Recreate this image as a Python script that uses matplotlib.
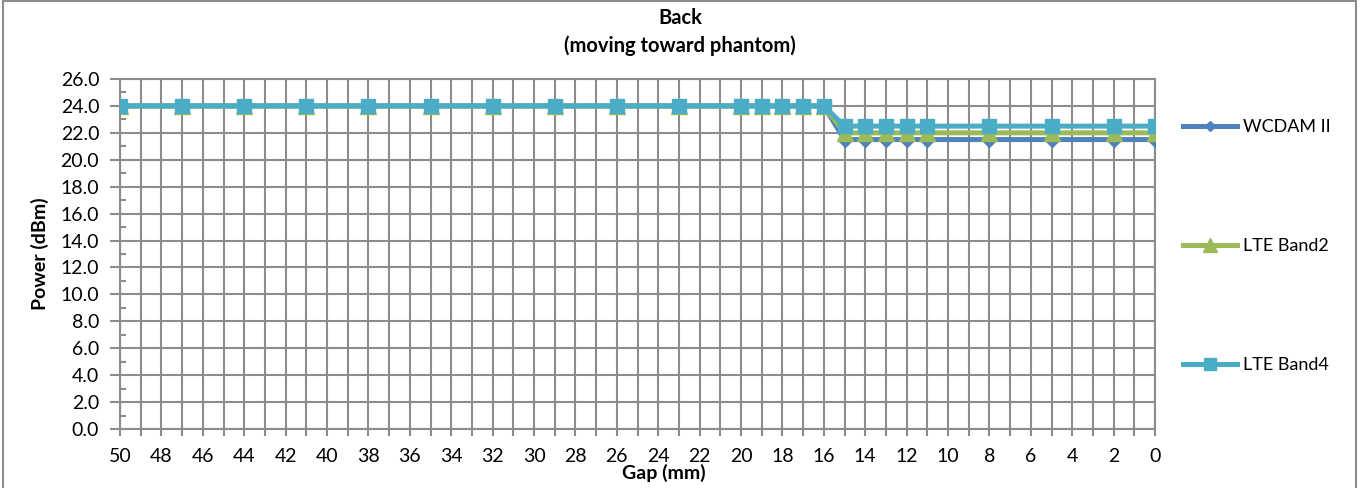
import matplotlib
matplotlib.use('Agg')

import matplotlib.pyplot as plt
from matplotlib.patches import Rectangle
from matplotlib.ticker import MultipleLocator, NullFormatter

plt.rcParams['font.family'] = ['Lato', 'DejaVu Sans']

# Data
gap_mm = [50, 47, 44, 41, 38, 35, 32, 29, 26, 23, 20, 19, 18, 17, 16,
          15, 14, 13, 12, 11, 8, 5, 2, 0]
wcdma_ii = [24.0] * 15 + [21.5] * 9
lte_band2 = [24.0] * 15 + [22.0] * 9
lte_band4 = [24.0] * 15 + [22.5] * 9

series_names = ['WCDAM II', 'LTE Band2', 'LTE Band4']
title_text = 'Back\n(moving toward phantom)'

W, H = 1362, 488
fig = plt.figure(figsize=(W / 100, H / 100), dpi=100)
ax = fig.add_axes([120 / W, 1 - 429 / H, (1155 - 120) / W, (429 - 79) / H])

# outer chart border, like the Excel chart area
fig.patches.append(Rectangle((3 / W, -0.01), 1353 / W, 1 - 1 / H + 0.01,
                             transform=fig.transFigure, fill=False,
                             edgecolor='#8c8c8c', linewidth=1.5))

ax.plot(gap_mm, wcdma_ii, color='#4F81BD', linewidth=3.6, marker='D',
        markersize=7, label=series_names[0], zorder=3)
ax.plot(gap_mm, lte_band2, color='#9BBB59', linewidth=3.6, marker='^',
        markersize=12, label=series_names[1], zorder=4)
ax.plot(gap_mm, lte_band4, color='#4BACC6', linewidth=3.6, marker='s',
        markersize=10, label=series_names[2], zorder=5)

ax.set_xlim(50, 0)
ax.set_ylim(0, 26)

ax.xaxis.set_major_locator(MultipleLocator(2))
ax.xaxis.set_minor_locator(MultipleLocator(1))
ax.xaxis.set_minor_formatter(NullFormatter())
ax.yaxis.set_major_locator(MultipleLocator(2))
ax.yaxis.set_minor_locator(MultipleLocator(1))
ax.yaxis.set_major_formatter(lambda v, p: f'{v:.1f}')

ax.tick_params(axis='x', which='both', direction='out', length=5, width=1.5,
               color='#8c8c8c', labelsize=14, pad=9)
ax.tick_params(axis='y', which='major', direction='out', length=7, width=1.5,
               color='#8c8c8c', labelsize=14, pad=8)
ax.tick_params(axis='y', which='minor', direction='in', length=4, width=1.5,
               color='#8c8c8c')

ax.grid(axis='x', which='both', color='#8c8c8c', linewidth=1.5)
ax.grid(axis='y', which='major', color='#8c8c8c', linewidth=1.5)
ax.set_axisbelow(True)
for side in ax.spines.values():
    side.set_color('#8c8c8c')
    side.set_linewidth(1.5)

# title is centred on the whole chart, not on the plot area
fig.text(680 / W, 1 - 32 / H, title_text, ha='center', va='center',
         fontsize=14.5, fontweight='bold', linespacing=1.45)

ax.set_xlabel('Gap (mm)', fontsize=14, fontweight='bold')
ax.xaxis.set_label_coords((664 - 120) / 1035, (429 - 473) / 350)
ax.xaxis.label.set_va('center')
ax.set_ylabel('Power (dBm)', fontsize=14, fontweight='bold')
ax.yaxis.set_label_coords((40 - 120) / 1035, 0.5)
ax.yaxis.label.set_va('center')

fig.legend(loc='center left', bbox_to_anchor=(1183 / W, 1 - 246 / H),
           frameon=False, fontsize=13, labelspacing=5.7, handlelength=3.0,
           handletextpad=0.3, borderpad=0, borderaxespad=0, markerscale=0.8)

fig.savefig('out.png', dpi=100)
